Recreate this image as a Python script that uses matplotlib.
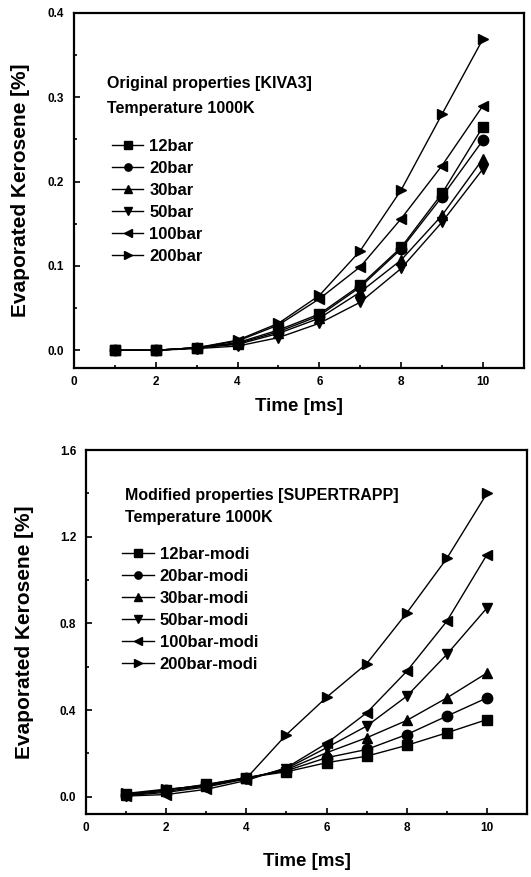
import matplotlib
matplotlib.use("Agg")
import matplotlib.pyplot as plt
from matplotlib.ticker import MultipleLocator

plt.rcParams['font.family'] = ['Liberation Sans', 'DejaVu Sans']
plt.rcParams['font.weight'] = 'bold'

time_ms = [1, 2, 3, 4, 5, 6, 7, 8, 9, 10]
labels_orig = ['12bar', '20bar', '30bar', '50bar', '100bar', '200bar']
labels_modi = ['12bar-modi', '20bar-modi', '30bar-modi', '50bar-modi', '100bar-modi', '200bar-modi']
markers = ['s', 'o', '^', 'v', '<', '>']

# original properties [KIVA3]
orig_12 = [0.0, 0.0, 0.003, 0.009, 0.024, 0.043, 0.077, 0.122, 0.186, 0.265]
orig_20 = [0.0, 0.0, 0.003, 0.008, 0.022, 0.041, 0.075, 0.120, 0.182, 0.249]
orig_30 = [0.0, 0.0, 0.003, 0.007, 0.020, 0.038, 0.069, 0.107, 0.160, 0.227]
orig_50 = [0.0, 0.0, 0.002, 0.005, 0.015, 0.032, 0.057, 0.097, 0.152, 0.215]
orig_100 = [0.0, 0.0, 0.003, 0.011, 0.030, 0.061, 0.099, 0.156, 0.219, 0.290]
orig_200 = [0.0, 0.0, 0.003, 0.012, 0.032, 0.065, 0.118, 0.190, 0.280, 0.369]

# modified properties [SUPERTRAPP]
modi_12 = [0.012, 0.030, 0.057, 0.088, 0.115, 0.157, 0.187, 0.237, 0.295, 0.356]
modi_20 = [0.010, 0.032, 0.055, 0.088, 0.120, 0.180, 0.218, 0.287, 0.372, 0.456]
modi_30 = [0.008, 0.025, 0.050, 0.085, 0.125, 0.203, 0.272, 0.352, 0.456, 0.571]
modi_50 = [0.005, 0.020, 0.045, 0.082, 0.130, 0.226, 0.326, 0.464, 0.657, 0.871]
modi_100 = [0.003, 0.010, 0.034, 0.075, 0.134, 0.246, 0.387, 0.579, 0.810, 1.117]
modi_200 = [0.015, 0.035, 0.050, 0.085, 0.287, 0.459, 0.614, 0.848, 1.100, 1.400]

orig = [orig_12, orig_20, orig_30, orig_50, orig_100, orig_200]
modi = [modi_12, modi_20, modi_30, modi_50, modi_100, modi_200]

fig = plt.figure(figsize=(5.31, 8.77), dpi=100)


def style_axes(ax, ymajor, yminor, ylo, yhi, ylab_x, xlab_y):
    ax.set_xlim(0, 11)
    ax.set_ylim(ylo, yhi)
    ax.xaxis.set_major_locator(MultipleLocator(2))
    ax.xaxis.set_minor_locator(MultipleLocator(1))
    ax.yaxis.set_major_locator(MultipleLocator(ymajor))
    ax.yaxis.set_minor_locator(MultipleLocator(yminor))
    ax.yaxis.set_major_formatter(plt.FormatStrFormatter('%.1f'))
    ax.tick_params(which='both', direction='in', width=1.2, labelsize=8.5)
    ax.tick_params(which='major', length=4)
    ax.tick_params(which='minor', length=2.5)
    ax.tick_params(axis='x', which='major', pad=6)
    ax.tick_params(axis='y', which='major', pad=7)
    for lab in ax.get_xticklabels() + ax.get_yticklabels():
        lab.set_fontweight('bold')
    for sp in ax.spines.values():
        sp.set_linewidth(1.6)
    ax.set_xlabel('Time [ms]', fontsize=13.5, fontweight='bold')
    ax.set_ylabel('Evaporated Kerosene [%]', fontsize=15, fontweight='bold')
    ax.yaxis.set_label_coords(ylab_x, 0.5)
    ax.xaxis.set_label_coords(0.5, xlab_y)


def draw_panel(ax, series, labels, title1, title2, tx, ty1, ty2, lx, ly):
    for vals, lab, m in zip(series, labels, markers):
        ax.plot(time_ms, vals, color='black', lw=1.0, marker=m, markersize=7.5, label=lab)
    ax.text(tx, ty1, title1, transform=ax.transAxes, fontsize=11.5, fontweight='bold', va='center')
    ax.text(tx, ty2, title2, transform=ax.transAxes, fontsize=11.5, fontweight='bold', va='center')
    ax.legend(loc='upper left', bbox_to_anchor=(lx, ly), frameon=False, fontsize=12,
              handlelength=1.9, handletextpad=0.35, labelspacing=0.42, borderaxespad=0,
              borderpad=0, markerscale=0.7)


# top panel
ax1 = fig.add_axes([0.1394, 0.5804, 0.847, 0.4048])
draw_panel(ax1, orig, labels_orig, 'Original properties [KIVA3]', 'Temperature 1000K',
           0.073, 0.800, 0.732, 0.084, 0.645)
style_axes(ax1, 0.1, 0.05, -0.021, 0.4, -0.098, -0.085)

# bottom panel
ax2 = fig.add_axes([0.162, 0.0718, 0.8305, 0.415])
draw_panel(ax2, modi, labels_modi, 'Modified properties [SUPERTRAPP]', 'Temperature 1000K',
           0.088, 0.876, 0.816, 0.082, 0.733)
style_axes(ax2, 0.4, 0.2, -0.08, 1.6, -0.118, -0.107)

fig.savefig('out.png', dpi=100)
